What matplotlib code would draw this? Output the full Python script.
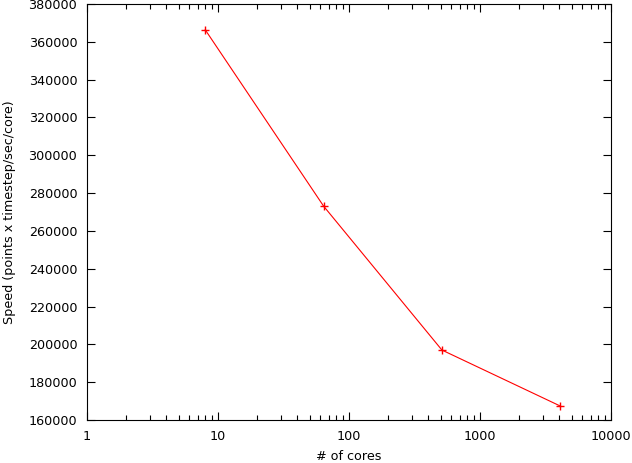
import matplotlib
matplotlib.use("Agg")
import matplotlib.pyplot as plt
from matplotlib.ticker import LogLocator, NullFormatter, FixedLocator

cores = [8, 64, 512, 4096]
speed = [366300, 273100, 197000, 167400]
xticks = [1, 10, 100, 1000, 10000]
yticks = list(range(160000, 380001, 20000))

plt.rcParams['font.family'] = 'DejaVu Sans'
plt.rcParams['font.size'] = 9.2

fig = plt.figure(figsize=(6.32, 4.63), dpi=100)
ax = fig.add_axes([87 / 632, 43 / 463, 524 / 632, 416 / 463])

ax.plot(cores, speed, color='red', lw=0.8, marker='+', ms=6, mew=1.0)

ax.set_xscale('log')
ax.set_xlim(1, 10000)
ax.set_ylim(160000, 380000)
ax.xaxis.set_major_locator(FixedLocator(xticks))
ax.set_xticklabels([str(t) for t in xticks])
ax.xaxis.set_minor_locator(LogLocator(base=10, subs=range(2, 10)))
ax.xaxis.set_minor_formatter(NullFormatter())
ax.set_yticks(yticks)
ax.set_yticklabels([str(t) for t in yticks])

ax.tick_params(which='both', direction='in', top=True, right=True, width=0.8)
ax.tick_params(which='major', length=6, pad=7)
ax.tick_params(which='minor', length=3.5)
for s in ax.spines.values():
    s.set_linewidth(0.8)

ax.set_xlabel('# of cores', labelpad=5)
ax.set_ylabel('Speed (points x timestep/sec/core)', labelpad=9)

fig.savefig('out.png', dpi=100)
